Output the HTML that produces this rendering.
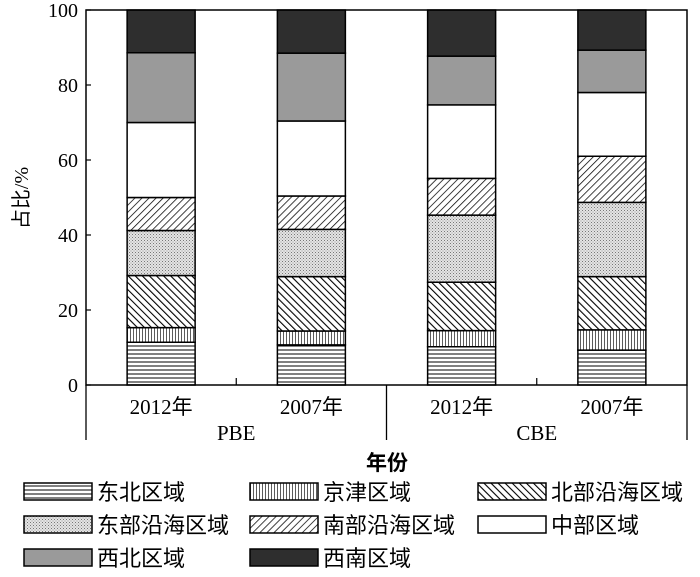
<!DOCTYPE html>
<html><head><meta charset="utf-8">
<style>
html,body{margin:0;padding:0;background:#fff;}
svg text{font-family:"Liberation Serif","Noto Sans CJK SC",serif;fill:#000;}
svg text.cjk{font-family:"Liberation Serif","Noto Sans CJK SC","WenQuanYi Zen Hei",sans-serif;}
</style></head>
<body>
<svg id="chart" width="700" height="572" viewBox="0 0 700 572" xmlns="http://www.w3.org/2000/svg">
<defs>
<pattern id="p-h" width="6" height="4" patternUnits="userSpaceOnUse"><rect width="6" height="4" fill="#fff"/><line x1="0" y1="2" x2="6" y2="2" stroke="#000" stroke-width="1"/></pattern>
<pattern id="p-v" width="3" height="6" patternUnits="userSpaceOnUse"><rect width="3" height="6" fill="#fff"/><line x1="1.5" y1="0" x2="1.5" y2="6" stroke="#333" stroke-width="0.8"/></pattern>
<pattern id="p-bs" width="5" height="5" patternUnits="userSpaceOnUse" patternTransform="rotate(-45)"><rect width="5" height="5" fill="#fff"/><line x1="0" y1="0" x2="0" y2="5" stroke="#000" stroke-width="2.2"/></pattern>
<pattern id="p-dot" width="3" height="3" patternUnits="userSpaceOnUse"><rect width="3" height="3" fill="#e4e4e4"/><rect x="0" y="0" width="1" height="1" fill="#777"/><rect x="1.5" y="1.5" width="1" height="1" fill="#999"/></pattern>
<pattern id="p-fs" width="5" height="5" patternUnits="userSpaceOnUse" patternTransform="rotate(45)"><rect width="5" height="5" fill="#fff"/><line x1="0" y1="0" x2="0" y2="5" stroke="#000" stroke-width="1.5"/></pattern>
</defs>
<g id="plot"></g>
</svg>
<script>
const categories = ["2012年","2007年","2012年","2007年"];
const groups = ["PBE","CBE"];
const seriesNames = ["东北区域","京津区域","北部沿海区域","东部沿海区域","南部沿海区域","中部区域","西北区域","西南区域"];
const dongbei = [11.4,10.7,10.2,9.3];
const jingjin = [3.9,3.7,4.3,5.4];
const beibu = [13.9,14.5,12.9,14.2];
const dongbu = [12.0,12.6,17.9,19.8];
const nanbu = [8.8,8.9,9.8,12.3];
const zhongbu = [20.0,20.0,19.6,17.0];
const xibei = [18.6,18.1,13.0,11.3];
const xinan = [11.4,11.5,12.3,10.7];
const yTicks = [0,20,40,60,80,100];
const seriesData = [dongbei,jingjin,beibu,dongbu,nanbu,zhongbu,xibei,xinan];
const fills = ["url(#p-h)","url(#p-v)","url(#p-bs)","url(#p-dot)","url(#p-fs)","#fff","#9a9a9a","#2e2e2e"];
const seriesKeys = ["dongbei","jingjin","beibu","dongbu","nanbu","zhongbu","xibei","xinan"];

const NS="http://www.w3.org/2000/svg";
const g=document.getElementById('plot');
const L=86,R=687,T=10,B=385;
const y=v=>B-(v/100)*(B-T);
const slot=(R-L)/categories.length;
const xc=i=>L+slot*(i+0.5);
const bw=68;
function mk(tag,attrs,parent){const e=document.createElementNS(NS,tag);for(const k in attrs)e.setAttribute(k,attrs[k]);(parent||g).appendChild(e);return e;}

categories.forEach((c,i)=>{
  let acc=0;
  seriesData.forEach((s,k)=>{
    const v=s[i];
    const r=mk('rect',{x:xc(i)-bw/2,y:y(acc+v),width:bw,height:y(acc)-y(acc+v),fill:fills[k],stroke:'#000','stroke-width':1.5});
    
    
    acc+=v;
  });
});
const fr=mk('rect',{x:L,y:T,width:R-L,height:B-T,fill:'none',stroke:'#000','stroke-width':1.5});


yTicks.forEach(t=>{
  const ln=mk('line',{x1:L,x2:L+5,y1:y(t),y2:y(t),stroke:'#000','stroke-width':1.2});
  
  
  const tx=mk('text',{x:L-8,y:y(t)+7,'text-anchor':'end','font-size':20});
  tx.textContent=t;
  
  
});
const yt=mk('text',{x:0,y:0,'font-size':20,'text-anchor':'middle',class:'cjk',transform:'translate(28,198) rotate(-90)'});
yt.textContent='占比/%';


[L,L+slot*2,R].forEach(xx=>{
  const ln=mk('line',{x1:xx,x2:xx,y1:B,y2:440,stroke:'#000','stroke-width':1.3});
  
  
});
[1,3].forEach(j=>{
  const ln=mk('line',{x1:L+slot*j,x2:L+slot*j,y1:B-7,y2:B,stroke:'#000','stroke-width':1.2});
  
  
});
categories.forEach((c,i)=>{
  const tx=mk('text',{x:xc(i),y:414,'text-anchor':'middle','font-size':21,class:'cjk'});
  tx.textContent=c;
  
  
});
groups.forEach((gname,j)=>{
  const tx=mk('text',{x:L+slot*(2*j+1),y:440,'text-anchor':'middle','font-size':21});
  tx.textContent=gname;
  
  
});
const xt=mk('text',{x:387,y:470,'text-anchor':'middle','font-size':21,'font-weight':'bold',class:'cjk'});
xt.textContent='年份';


const lx=[24,250,478], ly=[483,516,549];
seriesNames.forEach((n,k)=>{
  const col=k%3,row=Math.floor(k/3);
  const sw=mk('rect',{x:lx[col],y:ly[row],width:68,height:17,fill:fills[k],stroke:'#000','stroke-width':1.5});
  
  
  const tx=mk('text',{x:lx[col]+73,y:ly[row]+17,'font-size':22,class:'cjk'});
  tx.textContent=n;
  
  
});
</script>
</body></html>
